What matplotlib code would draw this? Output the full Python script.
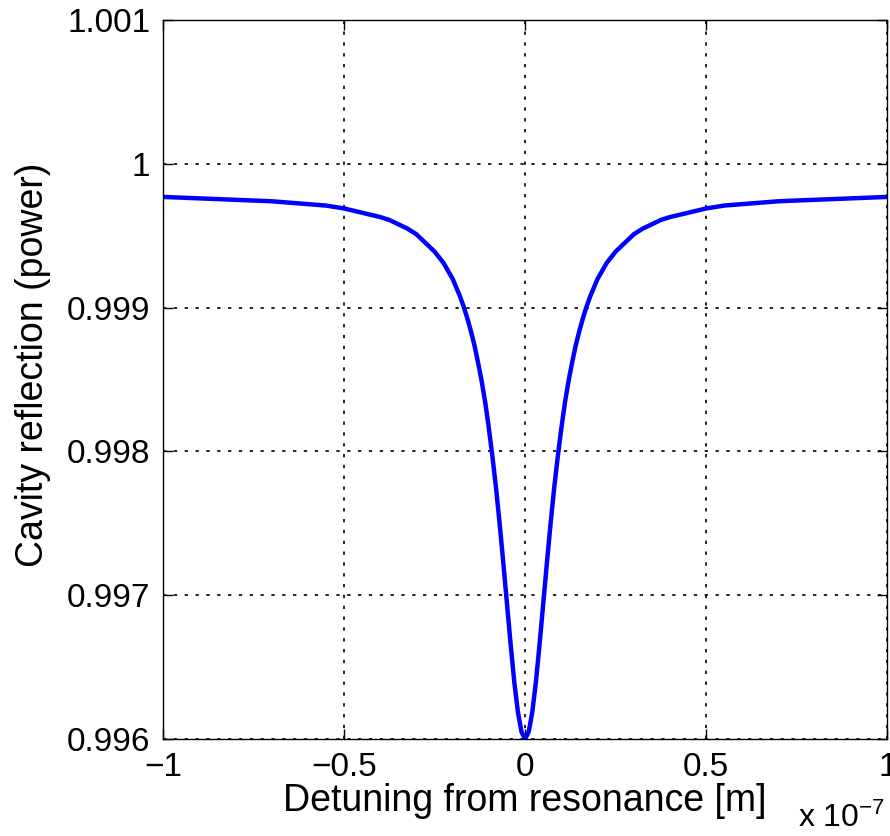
import numpy as np
import matplotlib
matplotlib.use('Agg')
import matplotlib.pyplot as plt

plt.rcParams['font.family']=['Liberation Sans','DejaVu Sans']
plt.rcParams['mathtext.default']='regular'

#Dessintonia (unidades de 1e-7 m) e reflexão da cavidade
detuning=[-1.0,-0.9,-0.8,-0.7,-0.6,-0.55,-0.5,-0.45,-0.4,-0.375,-0.35,-0.325,-0.3,-0.275,-0.25,-0.225,-0.2,-0.19,-0.18,-0.17,
          -0.16,-0.15,-0.14,-0.13,-0.12,-0.11,-0.10,-0.09,-0.08,-0.07,-0.06,-0.05,-0.04,-0.03,-0.02,-0.01,0.0,
          0.01,0.02,0.03,0.04,0.05,0.06,0.07,0.08,0.09,0.10,0.11,0.12,0.13,0.14,0.15,0.16,
          0.17,0.18,0.19,0.2,0.225,0.25,0.275,0.3,0.325,0.35,0.375,0.4,0.45,0.5,0.55,0.6,0.7,0.8,0.9,1.0]
reflexao=[0.99977,0.99976,0.99975,0.99974,0.99972,0.99971,0.99969,0.99966,0.99963,0.99961,0.99958,0.99955,0.99951,0.99945,0.99939,0.99931,0.99920,0.99914,0.99908,0.99901,
          0.99893,0.99884,0.99874,0.99862,0.99849,0.99834,0.99816,0.99796,0.99774,0.99749,0.99722,0.99694,0.99666,0.99640,0.99619,0.99605,0.99600,
          0.99605,0.99619,0.99640,0.99666,0.99694,0.99722,0.99749,0.99774,0.99796,0.99816,0.99834,0.99849,0.99862,0.99874,0.99884,0.99893,
          0.99901,0.99908,0.99914,0.99920,0.99931,0.99939,0.99945,0.99951,0.99955,0.99958,0.99961,0.99963,0.99966,0.99969,0.99971,0.99972,0.99974,0.99975,0.99976,0.99977]

xticks=[-1,-0.5,0,0.5,1]
xlabels=['\u22121','\u22120.5','0','0.5','1']
yticks=[0.996,0.997,0.998,0.999,1.0,1.001]
ylabels=['0.996','0.997','0.998','0.999','1','1.001']

fig=plt.figure(figsize=(8.9,8.36),dpi=100)
ax=fig.add_axes([0.183,0.116,0.814,0.860])
ax.plot(detuning,reflexao,color='#0000ff',linewidth=3.2,solid_capstyle='round',solid_joinstyle='round')
ax.set_xlim(-1,1)
ax.set_ylim(0.996,1.001)
ax.set_xticks(xticks)
ax.set_xticklabels(xlabels)
ax.set_yticks(yticks)
ax.set_yticklabels(ylabels)
ax.grid(True,color='k',linestyle=(0,(2,4.5)),linewidth=1.2)
ax.tick_params(direction='in',length=7,width=1,labelsize=24,top=True,right=True,pad=9)
for s in ax.spines.values():
    s.set_linewidth(1.0)
ax.set_xlabel('Detuning from resonance [m]',fontsize=27,labelpad=0)
ax.set_ylabel('Cavity reflection (power)',fontsize=27)
ax.yaxis.set_label_coords(-0.155,0.52)
fig.text(0.995,0.002,'x 10$^{-7}$',fontsize=23,ha='right',va='bottom')

plt.savefig('out.png',dpi=100)
